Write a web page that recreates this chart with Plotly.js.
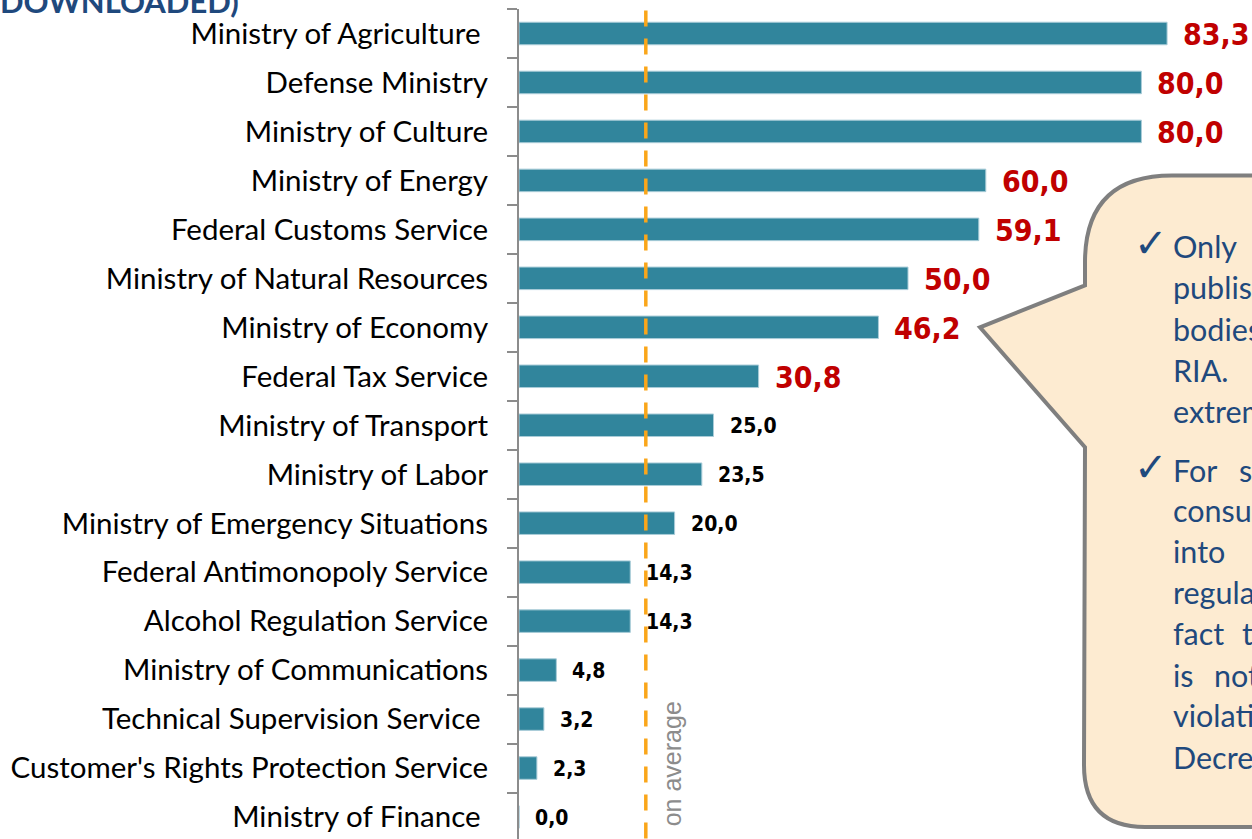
<!DOCTYPE html>
<html>
<head>
<meta charset="utf-8">
<script src="https://cdn.plot.ly/plotly-3.0.1.min.js"></script>
<style>
  html, body { margin: 0; padding: 0; background: #ffffff; overflow: hidden; }
  #chart { width: 1252px; height: 839px; }
</style>
</head>
<body>
<div id="chart"></div>
<script>
// ---- Data ----
const categories = [
  "Ministry of Agriculture\u00A0",
  "Defense Ministry",
  "Ministry of Culture",
  "Ministry of Energy",
  "Federal Customs Service",
  "Ministry of Natural Resources",
  "Ministry of Economy",
  "Federal Tax Service",
  "Ministry of Transport",
  "Ministry of Labor",
  "Ministry of Emergency Situations",
  "Federal Antimonopoly Service",
  "Alcohol Regulation Service",
  "Ministry of Communications",
  "Technical Supervision Service\u00A0",
  "Customer's Rights Protection Service",
  "Ministry of Finance\u00A0"
];
const values = [83.3, 80.0, 80.0, 60.0, 59.1, 50.0, 46.2, 30.8, 25.0, 23.5, 20.0, 14.3, 14.3, 4.8, 3.2, 2.3, 0.0];
const averageValue = 16.3;
const highlightThreshold = 30;
const averageLabel = "on average";
const titleFragment = "DOWNLOADED)";
const calloutBullet = "\u2713";
const calloutWords = [
  ["Only", "the"], ["publishing"], ["bodies"], ["RIA.", "It"], ["extremely"],
  ["For", "some"], ["consultation"], ["into", "the"], ["regulation"], ["fact", "that"],
  ["is", "not"], ["violation"], ["Decree"]
];

// ---- Layout helpers (pixel -> paper) ----
const W = 1252, H = 839;
const ML = 519, MT = 8.5, MB = 0, MR = 0;
const PW = W - ML - MR, PH = H - MT - MB;
const px = x => (x - ML) / PW;
const py = y => (H - MB - y) / PH;

const fmt = v => v.toFixed(1).replace('.', ',');

const trace = {
  type: 'bar',
  orientation: 'h',
  x: values,
  y: categories,
  width: 0.46,
  marker: { color: '#31859C', line: { color: '#A9CCD8', width: 1 } },
  hoverinfo: 'skip'
};

const numFont = 'DejaVu Sans Condensed, DejaVu Sans, sans-serif';
const annotations = [];
// value labels
values.forEach((v, i) => {
  const big = v >= highlightThreshold;
  annotations.push({
    x: v, y: categories[i], xref: 'x', yref: 'y',
    text: '<b>' + fmt(v) + '</b>', showarrow: false,
    xanchor: 'left', yanchor: 'middle',
    xshift: 14, yshift: big ? -1 : -1,
    font: big ? { family: numFont, size: 30, color: '#C00000' }
              : { family: numFont, size: 21, color: '#000000' }
  });
});
// average label
annotations.push({
  x: averageValue, y: py(828), xref: 'x', yref: 'paper',
  text: averageLabel, showarrow: false, textangle: -90,
  xanchor: 'center', yanchor: 'bottom', xshift: 26,
  font: { family: 'Liberation Sans, Arial, sans-serif', size: 25, color: '#8C8C8C' }
});
// title fragment (cut off at top)
annotations.push({
  x: px(-2), y: py(22), xref: 'paper', yref: 'paper',
  text: '<b>' + titleFragment + '</b>', showarrow: false,
  xanchor: 'left', yanchor: 'bottom',
  font: { family: 'Lato, sans-serif', size: 31, color: '#1F497D' }
});
// callout text
const lineBaselines = [256, 297, 339, 380, 421, 480, 520, 561, 602, 643, 685, 725, 767];
const secondWordX = [1290, null, null, 1290, null, 1237, null, 1290, null, 1240, 1212, null, null];
const calloutFont = { family: 'Lato, sans-serif', size: 30.5, color: '#1F497D' };
calloutWords.forEach((words, i) => {
  const yc = py(lineBaselines[i] - 10);
  annotations.push({
    x: px(1171), y: yc, xref: 'paper', yref: 'paper',
    text: words[0], showarrow: false, xanchor: 'left', yanchor: 'middle',
    font: calloutFont
  });
  if (words[1] && secondWordX[i]) {
    annotations.push({
      x: px(secondWordX[i]), y: yc, xref: 'paper', yref: 'paper',
      text: words[1], showarrow: false, xanchor: 'left', yanchor: 'middle',
      font: calloutFont
    });
  }
});
[256, 480].forEach(b => {
  annotations.push({
    x: px(1132), y: py(b - 13), xref: 'paper', yref: 'paper',
    text: calloutBullet, showarrow: false, xanchor: 'left', yanchor: 'middle',
    font: { family: 'DejaVu Sans, sans-serif', size: 40, color: '#1F497D' }
  });
});

// callout shape path (in paper coords)
const P = (x, y) => px(x).toFixed(5) + ',' + py(y).toFixed(5);
const calloutPath =
  'M' + P(1085, 285) +
  ' L' + P(980, 327) +
  ' L' + P(1085, 447) +
  ' L' + P(1084, 765) +
  ' Q' + P(1084, 827) + ' ' + P(1145, 827) +
  ' L' + P(1320, 827) +
  ' L' + P(1320, 175) +
  ' L' + P(1172, 175) +
  ' Q' + P(1085, 175) + ' ' + P(1085, 262) +
  ' Z';

const shapes = [
  {
    type: 'path', xref: 'paper', yref: 'paper', path: calloutPath,
    fillcolor: '#FDEBD1', line: { color: '#7F7F7F', width: 4 }, layer: 'below'
  },
  {
    type: 'line', xref: 'x', yref: 'paper',
    x0: averageValue, x1: averageValue, y0: py(10), y1: 0,
    line: { color: '#FAA61A', width: 3.5, dash: '16px,12px' }
  }
];

const layout = {
  width: W, height: H, autosize: false,
  margin: { l: ML, r: MR, t: MT, b: MB, pad: 0 },
  paper_bgcolor: '#ffffff', plot_bgcolor: 'rgba(0,0,0,0)',
  showlegend: false,
  xaxis: {
    range: [0, PW / 7.78], visible: false, fixedrange: true
  },
  yaxis: {
    type: 'category',
    categoryorder: 'array', categoryarray: categories,
    range: [-0.5 + PH / 49, -0.5],
    showline: true, linecolor: '#8C8C8C', linewidth: 2,
    ticks: 'outside', ticklen: 10, tickwidth: 2, tickcolor: '#8C8C8C',
    tickson: 'boundaries', ticklabelstandoff: 23,
    showgrid: false, zeroline: false, fixedrange: true,
    tickfont: { family: 'Lato, sans-serif', size: 29.5, color: '#000000' }
  },
  annotations: annotations,
  shapes: shapes
};

Plotly.newPlot('chart', [trace], layout, { displayModeBar: false, staticPlot: true });
</script>
</body>
</html>
